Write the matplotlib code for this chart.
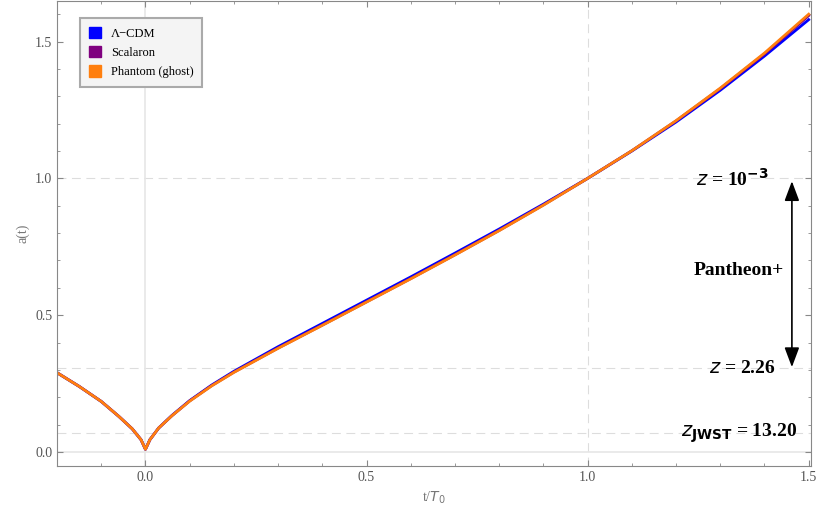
import matplotlib.pyplot as plt
from matplotlib.patches import Patch
from matplotlib.ticker import MultipleLocator
import numpy as np

# data (t/T0, a(t))
t = [-0.2, -0.15, -0.1, -0.06, -0.03, -0.01, 0.0, 0.01, 0.03, 0.06, 0.1, 0.15, 0.2, 0.3, 0.4,
     0.5, 0.6, 0.7, 0.8, 0.9, 1.0, 1.1, 1.2, 1.3, 1.4, 1.5]
a_lcdm = [0.29, 0.24, 0.185, 0.13, 0.085, 0.045, 0.01, 0.045, 0.088, 0.134, 0.188, 0.245, 0.295,
          0.385, 0.47, 0.555, 0.64, 0.727, 0.815, 0.906, 1.0, 1.1, 1.206, 1.322, 1.447, 1.58]
a_scalaron = [0.29, 0.24, 0.185, 0.13, 0.085, 0.045, 0.01, 0.045, 0.088, 0.133, 0.187, 0.243, 0.292,
              0.38, 0.464, 0.549, 0.634, 0.721, 0.81, 0.903, 1.0, 1.101, 1.21, 1.328, 1.455, 1.595]
a_phantom = [0.29, 0.24, 0.185, 0.13, 0.085, 0.045, 0.01, 0.045, 0.088, 0.133, 0.186, 0.242, 0.291,
             0.379, 0.463, 0.548, 0.633, 0.72, 0.809, 0.902, 1.0, 1.101, 1.211, 1.33, 1.458, 1.6]
labels = ["Λ−CDM", "Scalaron", "Phantom (ghost)"]
colors = ["#0000ff", "#7f007f", "#ff7f0e"]
z_marks = [1.0, 1 / 3.26, 1 / 14.20]

plt.rcParams["font.family"] = "Liberation Serif"
fig = plt.figure(figsize=(8.3, 5.13), dpi=100)
ax = fig.add_axes([0.0687, 0.0916, 0.9083, 0.9074])

for y in z_marks:
    ax.axhline(y, color="#dddddd", lw=0.8, ls=(0, (8, 5)), zorder=0)
ax.axvline(1.0, color="#dddddd", lw=0.8, ls=(0, (8, 5)), zorder=0)
ax.axvline(0.0, color="#e6e6e6", lw=1.2, zorder=0)
ax.axhline(0.0, color="#e6e6e6", lw=1.2, zorder=0)

for ys, c in zip([a_lcdm, a_scalaron, a_phantom], colors):
    ax.plot(t, ys, color=c, lw=2)

ax.set_xlim(-0.2, 1.505)
ax.set_ylim(-0.051, 1.65)
ax.xaxis.set_major_locator(MultipleLocator(0.5))
ax.xaxis.set_minor_locator(MultipleLocator(0.1))
ax.yaxis.set_major_locator(MultipleLocator(0.5))
ax.yaxis.set_minor_locator(MultipleLocator(0.1))
ax.tick_params(which="both", direction="in", top=True, right=True, colors="#888888",
               labelcolor="#555555", labelsize=10)
ax.tick_params(which="major", length=4)
ax.tick_params(which="minor", length=2.5)
for s in ax.spines.values():
    s.set_color("#888888")
ax.set_xlabel("t/$T_0$", color="#777777", fontsize=10)
ax.set_ylabel("a(t)", color="#777777", fontsize=10)

# annotations
bold = dict(fontsize=14, fontweight="bold", va="center", ha="right")
ax.text(1.41, 1.0, r"$\mathbf{\it{z}}$ = 10$^{\mathbf{-3}}$", **bold)
ax.text(1.445, 0.665, "Pantheon+", **bold)
ax.text(1.425, 0.307, r"$\it{z}$ = 2.26", **bold)
ax.text(1.473, 0.07, r"$\it{z}_{\mathbf{JWST}}$ = 13.20", **bold)
ax.annotate("", xy=(1.462, 1.0), xytext=(1.462, 0.30),
            arrowprops=dict(arrowstyle="<|-|>,head_length=1.2,head_width=0.45", color="black", lw=1.2))

handles = [Patch(facecolor=c, edgecolor=c, alpha=1.0) for c in colors]
leg = ax.legend(handles, labels, loc="upper left", bbox_to_anchor=(0.022, 0.975), fontsize=9,
                handlelength=1.0, handleheight=1.0, fancybox=False, framealpha=1,
                facecolor="#f4f4f4", edgecolor="#aaaaaa", borderpad=0.7, labelspacing=0.5)
leg.get_frame().set_linewidth(1.5)

fig.savefig("out.png", dpi=100)
